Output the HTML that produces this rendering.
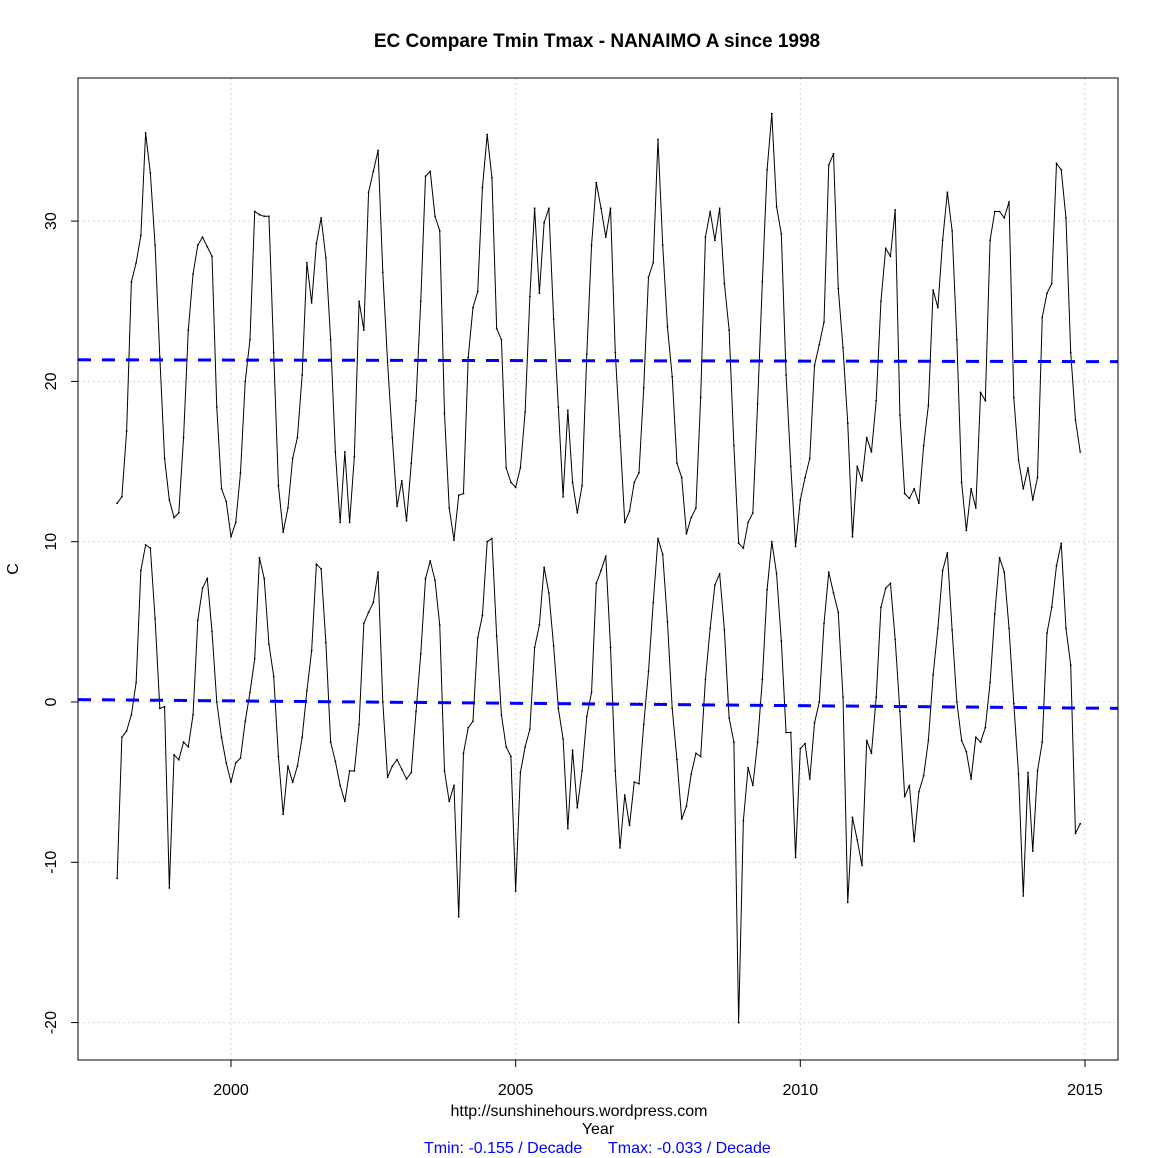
<!DOCTYPE html>
<html><head><meta charset="utf-8"><style>
html,body{margin:0;padding:0;background:#fff;}
svg{display:block;font-family:"Liberation Sans",Arial,sans-serif;}
</style></head><body>
<svg id="chart" width="1159" height="1158" viewBox="0 0 1159 1158">
<rect width="1159" height="1158" fill="#fff"/>
<text x="597" y="47" text-anchor="middle" font-size="19" font-weight="bold">EC Compare Tmin Tmax - NANAIMO A since 1998</text>
<g id="grid"></g>
<g id="axes"></g>
<g id="series"></g>
<rect x="78" y="78" width="1040" height="982" fill="none" stroke="#000" stroke-width="1"/>
<text transform="translate(18,569) rotate(-90)" text-anchor="middle" font-size="16">C</text>
<text x="579" y="1116" text-anchor="middle" font-size="16">http://sunshinehours.wordpress.com</text>
<text x="598" y="1134" text-anchor="middle" font-size="16">Year</text>
<text x="424" y="1153" font-size="16" fill="#0000ff">Tmin: -0.155  / Decade</text>
<text x="608" y="1153" font-size="16" fill="#0000ff">Tmax: -0.033  / Decade</text>
</svg>
<script>
const startYear = 1998;
const xTicks = [2000, 2005, 2010, 2015];
const yTicks = [-20, -10, 0, 10, 20, 30];
const tmax = [
12.4,12.8,16.9,26.2,27.4,29.1,35.5,33,28.5,21.5,15.2,12.6,
11.5,11.8,16.5,23.2,26.7,28.5,29,28.4,27.8,18.4,13.3,12.5,
10.3,11.2,14.3,20,22.6,30.6,30.4,30.3,30.3,21.8,13.5,10.6,
12.1,15.2,16.5,20.4,27.4,24.9,28.6,30.2,27.7,22.6,15.6,11.2,
15.6,11.2,15.3,25,23.2,31.8,33.1,34.4,26.8,21.2,16.5,12.2,
13.8,11.3,14.9,18.8,25,32.8,33.1,30.3,29.4,18,12.1,10.1,
12.9,13,21.5,24.6,25.6,32.1,35.4,32.7,23.3,22.6,14.6,13.7,
13.4,14.6,18.1,25.3,30.8,25.5,29.9,30.8,23.9,18.4,12.8,18.2,
13.7,11.8,13.5,21.7,28.5,32.4,30.8,29,30.8,21.8,16.6,11.2,
11.9,13.7,14.3,19.6,26.5,27.4,35.1,28.5,23.4,20.3,14.9,14.0,
10.5,11.5,12.1,19,29,30.6,28.8,30.8,26.1,23.2,16,9.9,
9.6,11.2,11.8,18.6,26.2,33.2,36.7,30.9,29.2,20.4,14.7,9.7,
12.6,14,15.2,21,22.3,23.7,33.5,34.2,25.8,22.1,17.4,10.3,
14.7,13.8,16.5,15.6,18.8,25,28.3,27.8,30.7,17.9,13,12.7,
13.3,12.4,16,18.5,25.7,24.6,28.8,31.8,29.4,22.6,13.7,10.7,
13.3,12.1,19.3,18.8,28.8,30.6,30.6,30.2,31.2,19,15.1,13.3,
14.6,12.6,14,24,25.5,26.1,33.6,33.2,30.2,21.8,17.6,15.6];
const tmin = [
-11,-2.2,-1.8,-0.8,1.2,8.2,9.8,9.6,5.2,-0.4,-0.3,-11.6,
-3.3,-3.6,-2.5,-2.8,-0.8,5.1,7.1,7.7,4.4,0,-2.2,-3.8,
-5,-3.8,-3.5,-1.2,0.6,2.7,9,7.7,3.6,1.6,-3.4,-7,
-4,-5,-4,-2.2,0.7,3.2,8.6,8.3,3.7,-2.5,-3.7,-5.2,
-6.2,-4.3,-4.3,-1.4,4.9,5.6,6.2,8.1,0,-4.7,-4,-3.6,
-4.2,-4.8,-4.4,-0.6,3,7.7,8.8,7.6,4.8,-4.3,-6.2,-5.2,
-13.4,-3.2,-1.6,-1.2,4,5.4,10,10.2,4.1,-0.8,-2.8,-3.4,
-11.8,-4.4,-2.8,-1.7,3.4,4.8,8.4,6.8,3.5,-0.4,-2.3,-7.9,
-3,-6.6,-4.3,-0.9,0.6,7.4,8.2,9.1,3.4,-4.3,-9.1,-5.8,
-7.7,-5,-5.1,-1.4,1.9,6.2,10.2,9.2,5,-0.4,-3.6,-7.3,
-6.5,-4.5,-3.2,-3.4,1.4,4.6,7.3,8,4.5,-1,-2.5,-20,
-7.4,-4.1,-5.2,-2.5,1.4,7,10,8,3.8,-1.9,-1.9,-9.7,
-2.9,-2.6,-4.8,-1.3,0,4.9,8.1,6.8,5.6,0.3,-12.5,-7.2,
-8.6,-10.2,-2.4,-3.2,0.3,5.9,7.1,7.4,3.9,-0.6,-5.9,-5.2,
-8.7,-5.6,-4.6,-2.4,1.7,4.6,8.2,9.3,4.5,0,-2.4,-3.1,
-4.8,-2.2,-2.5,-1.6,1.2,5.5,9,8.1,4.6,-0.1,-4.5,-12.1,
-4.4,-9.3,-4.3,-2.5,4.3,5.9,8.5,9.9,4.6,2.3,-8.2,-7.6];

const NS = "http://www.w3.org/2000/svg";
const PL = 78, PR = 1118, PT = 78, PB = 1060;
function xs(t){ return 231 + (t - 2000) * 56.93; }
function ys(v){ return 702 - v * 16.03; }
function mk(tag, attrs, parent){
  const e = document.createElementNS(NS, tag);
  for (const k in attrs) e.setAttribute(k, attrs[k]);
  parent.appendChild(e); return e;
}
const grid = document.getElementById('grid');
const axes = document.getElementById('axes');
const series = document.getElementById('series');

xTicks.forEach(t => {
  const x = xs(t);
  const g = mk('line', {x1:x, x2:x, y1:PT, y2:PB, stroke:'#d3d3d3', 'stroke-dasharray':'2 3'}, grid);
  
  
  const tk = mk('line', {x1:x, x2:x, y1:PB, y2:PB+7, stroke:'#000'}, axes);
  
  
  const lb = mk('text', {x:x, y:PB+35, 'text-anchor':'middle', 'font-size':16}, axes);
  lb.textContent = t;
  
  
});
yTicks.forEach(v => {
  const y = ys(v);
  const g = mk('line', {x1:PL, x2:PR, y1:y, y2:y, stroke:'#d3d3d3', 'stroke-dasharray':'2 3'}, grid);
  
  
  const tk = mk('line', {x1:PL-7, x2:PL, y1:y, y2:y, stroke:'#000'}, axes);
  
  
  const lb = mk('text', {transform:'translate(56,'+y+') rotate(-90)', 'text-anchor':'middle', 'font-size':16}, axes);
  lb.textContent = v;
  
  
});

function drawSeries(arr, name){
  const pts = arr.map((v,i) => xs(startYear + i/12).toFixed(2) + ',' + ys(v).toFixed(2));
  const pl = mk('polyline', {points:pts.join(' '), fill:'none', stroke:'#000', 'stroke-width':1}, series);
  
  
  arr.forEach((v,i) => {
    const c = mk('circle', {cx:xs(startYear + i/12), cy:ys(v), r:0.9, fill:'#000'}, series);
    
    
  });
  // linear regression trend line
  const n = arr.length;
  let sx=0, sy=0, sxx=0, sxy=0;
  arr.forEach((v,i) => { const t = startYear + i/12; sx+=t; sy+=v; sxx+=t*t; sxy+=t*v; });
  const b = (n*sxy - sx*sy)/(n*sxx - sx*sx);
  const a = (sy - b*sx)/n;
  const t0 = 2000 + (PL-231)/56.93, t1 = 2000 + (PR-231)/56.93;
  const tl = mk('line', {x1:PL, x2:PR, y1:ys(a+b*t0), y2:ys(a+b*t1), stroke:'#0000ff', 'stroke-width':3, 'stroke-dasharray':'13 11'}, series);
  
  
}
drawSeries(tmax, 'tmax');
drawSeries(tmin, 'tmin');
</script>
</body></html>
